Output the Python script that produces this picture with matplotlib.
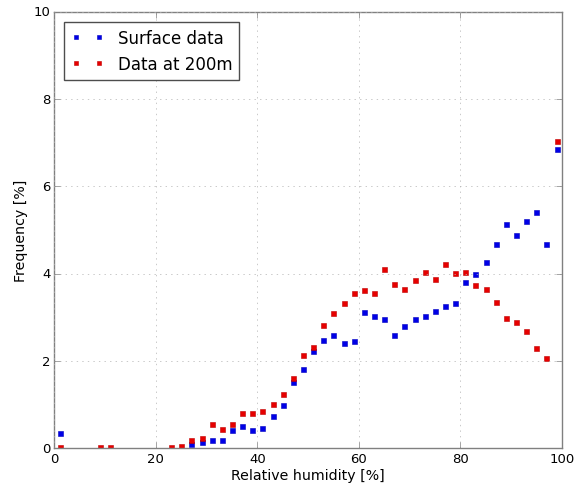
import numpy as np
import matplotlib
matplotlib.use("Agg")
import matplotlib.pyplot as plt

# relative humidity bin centres [%]
rh_surface = [1, 27, 29, 31, 33, 35, 37, 39, 41, 43, 45, 47, 49, 51, 53, 55, 57, 59,
              61, 63, 65, 67, 69, 71, 73, 75, 77, 79, 81, 83, 85, 87, 89, 91, 93, 95, 97, 99]
freq_surface = [0.36, 0.10, 0.15, 0.18, 0.18, 0.43, 0.51, 0.43, 0.46, 0.73, 1.00, 1.52,
                1.81, 2.23, 2.49, 2.59, 2.41, 2.47, 3.13, 3.04, 2.97, 2.59, 2.81, 2.97,
                3.04, 3.14, 3.27, 3.34, 3.81, 3.99, 4.26, 4.69, 5.13, 4.89, 5.22, 5.42,
                4.69, 6.87]

rh_200m = [1, 9, 11, 23, 25, 27, 29, 31, 33, 35, 37, 39, 41, 43, 45, 47, 49, 51, 53, 55,
           57, 59, 61, 63, 65, 67, 69, 71, 73, 75, 77, 79, 81, 83, 85, 87, 89, 91, 93,
           95, 97, 99]
freq_200m = [0.03, 0.03, 0.02, 0.03, 0.05, 0.18, 0.24, 0.55, 0.45, 0.56, 0.80, 0.82,
             0.85, 1.02, 1.25, 1.61, 2.14, 2.33, 2.83, 3.10, 3.33, 3.56, 3.62, 3.55,
             4.11, 3.76, 3.65, 3.85, 4.03, 3.89, 4.23, 4.01, 4.03, 3.75, 3.65, 3.36,
             2.99, 2.89, 2.69, 2.30, 2.06, 7.05]

plt.style.use("classic")
fig = plt.figure(figsize=(5.84, 4.89), dpi=100, facecolor="white")
ax = fig.add_axes((0.0933, 0.0812, 0.8685, 0.8923))

ax.plot(rh_surface, freq_surface, "s", color="#0000e6", markeredgecolor="#0000c0",
        markeredgewidth=0.4, markersize=3.6, label="Surface data")
ax.plot(rh_200m, freq_200m, "s", color="#e60000", markeredgecolor="#c00000",
        markeredgewidth=0.4, markersize=3.6, label="Data at 200m")

ax.set_xlim(0, 100)
ax.set_ylim(0, 10)
ax.set_xticks([0, 20, 40, 60, 80, 100])
ax.set_yticks([0, 2, 4, 6, 8, 10])
ax.grid(True, color="0.7", linestyle=":")
for sp in ax.spines.values():
    sp.set_color("0.5")
ax.tick_params(labelsize=9.5, pad=3, color="0.5")
ax.set_xlabel("Relative humidity [%]", fontsize=10.2, labelpad=2)
ax.set_ylabel("Frequency [%]", fontsize=10.2, labelpad=4)
leg = ax.legend(loc="upper left", numpoints=2, fontsize=12, markerscale=0.75,
                borderaxespad=0.6)
leg.get_frame().set_edgecolor("0.3")

fig.savefig("out.png", dpi=100, facecolor="white")
